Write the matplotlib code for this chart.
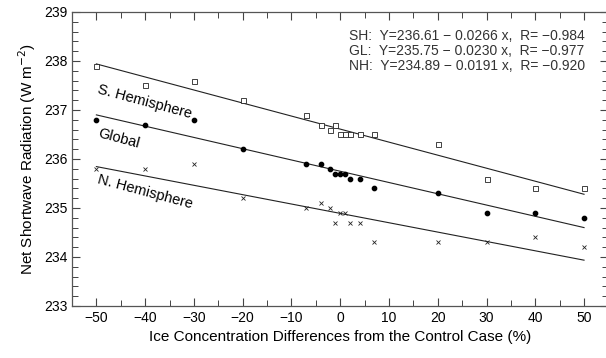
import numpy as np
import matplotlib.pyplot as plt
from matplotlib.ticker import MultipleLocator

plt.rcParams['font.family'] = ['Liberation Sans', 'DejaVu Sans']

# ice concentration differences (%)
x = [-50, -40, -30, -20, -7, -4, -2, -1, 0, 1, 2, 4, 7, 20, 30, 40, 50]

# net shortwave radiation (W m-2)
sh = [237.9, 237.5, 237.6, 237.2, 236.9, 236.7, 236.6, 236.7, 236.5, 236.5, 236.5, 236.5, 236.5, 236.3, 235.6, 235.4, 235.4]
gl = [236.8, 236.7, 236.8, 236.2, 235.9, 235.9, 235.8, 235.7, 235.7, 235.7, 235.6, 235.6, 235.4, 235.3, 234.9, 234.9, 234.8]
nh = [235.8, 235.8, 235.9, 235.2, 235.0, 235.1, 235.0, 234.7, 234.9, 234.9, 234.7, 234.7, 234.3, 234.3, 234.3, 234.4, 234.2]

# regression fits (intercept, slope, R)
fits = {
    'SH': (236.61, -0.0266, -0.984),
    'GL': (235.75, -0.0230, -0.977),
    'NH': (234.89, -0.0191, -0.920),
}

fig = plt.figure(figsize=(6.06, 3.58), dpi=100)
ax = fig.add_axes([0.1188, 0.1453, 1.004 - 0.1188, 0.9665 - 0.1453])

xx = np.array([-50, 50])
for key in ['SH', 'GL', 'NH']:
    a, b, r = fits[key]
    ax.plot(xx, a + b * xx, color='#222222', lw=0.8)

ax.plot(x, sh, ls='none', marker='s', ms=3.6, mfc='white', mec='#222222', mew=0.6)
ax.plot(x, gl, ls='none', marker='o', ms=3.1, mfc='black', mec='black')
ax.plot(x, nh, ls='none', marker='x', ms=3.4, mec='#222222', mew=0.6)

rot = -15
ax.text(-49.9, 237.35, 'S. Hemisphere', rotation=rot, rotation_mode='anchor',
        ha='left', va='baseline', fontsize=10.5)
ax.text(-49.9, 236.44, 'Global', rotation=rot, rotation_mode='anchor',
        ha='left', va='baseline', fontsize=10.5)
ax.text(-49.9, 235.5, 'N. Hemisphere', rotation=rot, rotation_mode='anchor',
        ha='left', va='baseline', fontsize=10.5)

lines = []
for key in ['SH', 'GL', 'NH']:
    a, b, r = fits[key]
    lines.append(f'{key}:  Y={a:.2f} \u2212 {abs(b):.4f} x,  R= \u2212{abs(r):.3f}')
ax.text(1.9, 238.66, '\n'.join(lines), ha='left', va='top', multialignment='left',
        fontsize=10, color='#333333', linespacing=1.1)

ax.set_xlim(-55, 55)
ax.set_ylim(233, 239)
ax.xaxis.set_major_locator(MultipleLocator(10))
ax.xaxis.set_minor_locator(MultipleLocator(5))
ax.yaxis.set_major_locator(MultipleLocator(1))
ax.yaxis.set_minor_locator(MultipleLocator(0.2))
ax.tick_params(which='both', direction='in', top=True, right=True, labelsize=10, color='#444444')
ax.tick_params(which='major', length=6, width=0.8)
ax.tick_params(which='minor', length=4, width=0.7)
for s in ax.spines.values():
    s.set_color('#555555')
    s.set_linewidth(0.9)

ax.set_xlabel('Ice Concentration Differences from the Control Case (%)', fontsize=11)
ax.set_ylabel('Net Shortwave Radiation (W m$^{-2}$)', fontsize=11)

fig.savefig('out.png', dpi=100)
